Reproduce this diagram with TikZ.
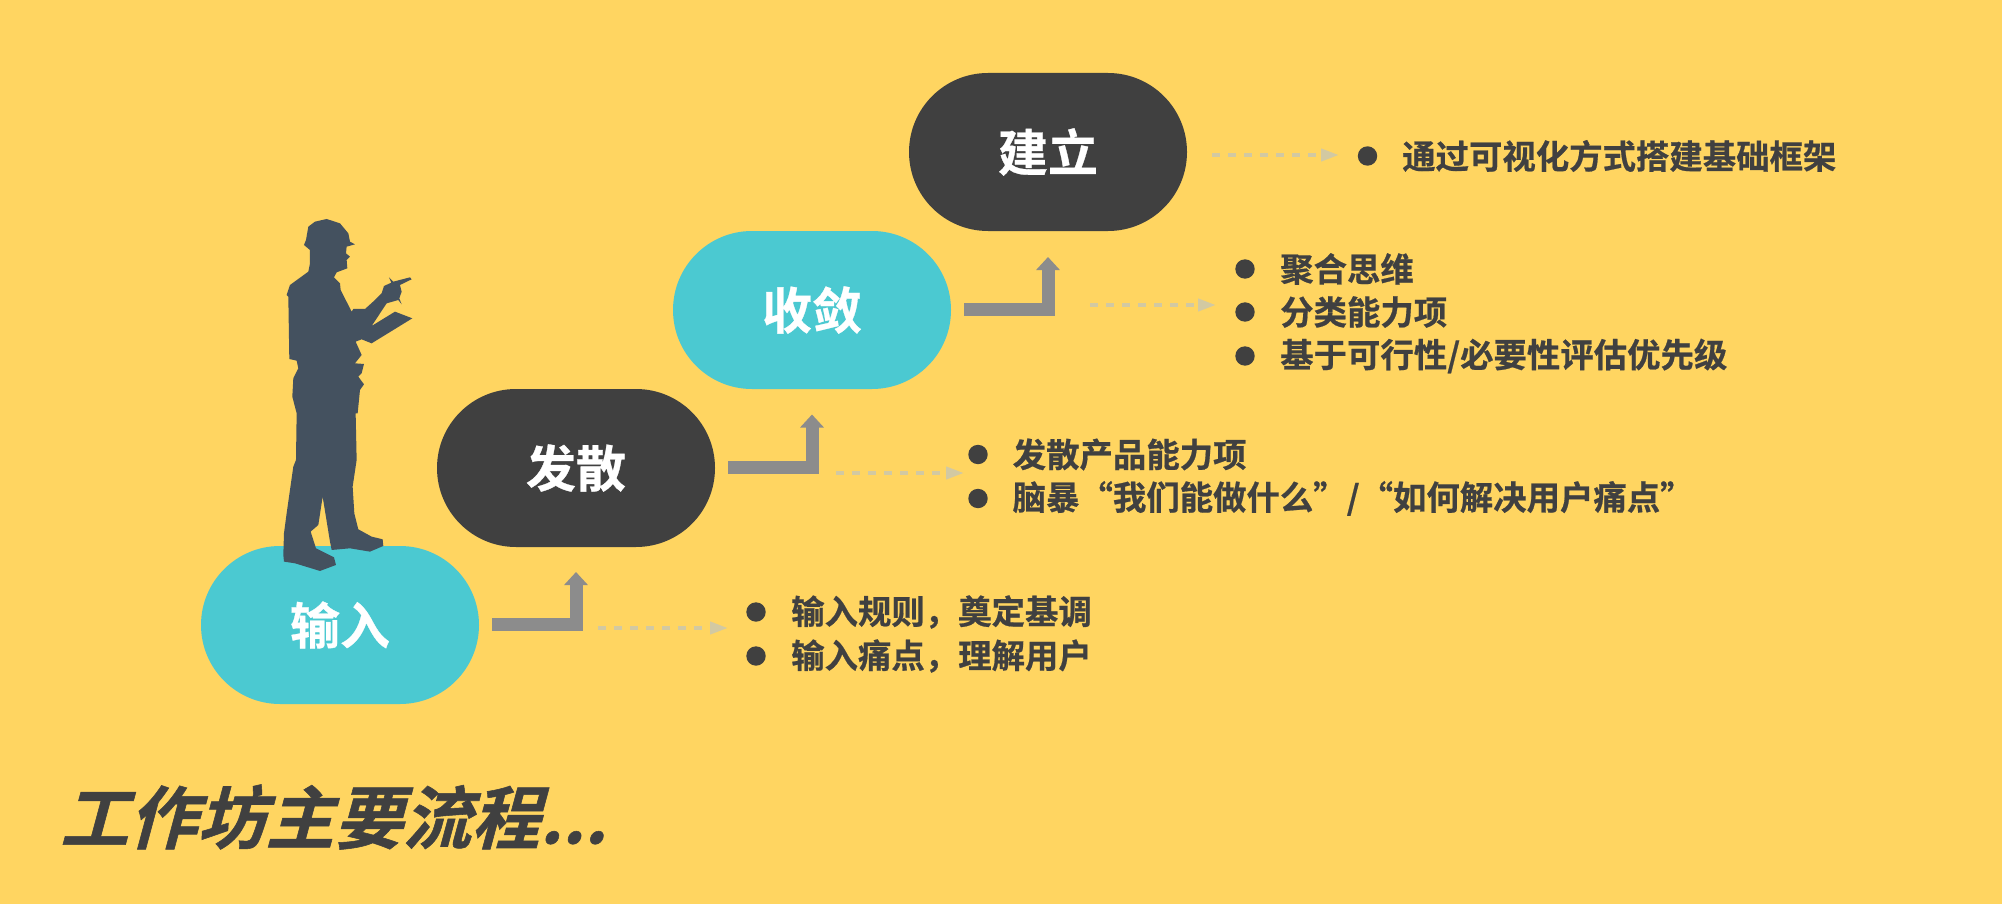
\documentclass[tikz,border=0pt]{standalone}
\usepackage{fontspec}
\usetikzlibrary{arrows.meta,calc}
\newfontfamily\cjk{Noto Sans CJK SC}[BoldFont={Noto Sans CJK SC Bold},BoldFeatures={FakeBold=0.6}]
\newfontfamily\cjktitle{Noto Sans CJK SC}[BoldFont={Noto Sans CJK SC Bold},BoldFeatures={FakeBold=0.8,FakeSlant=0.27}]
\definecolor{bgc}{HTML}{FFD561}
\definecolor{tealc}{HTML}{4BC9D1}
\definecolor{darkc}{HTML}{404040}
\definecolor{manc}{HTML}{44515F}
\definecolor{bentc}{HTML}{8C8C8C}
\definecolor{dashc}{HTML}{D2C9A2}
\tikzset{
  x=1pt,y=-1pt,
  pill/.style={rounded corners=79pt,minimum width=278pt,minimum height=158pt,inner sep=0pt,text=white,font=\cjk\bfseries\fontsize{50}{50}\selectfont},
  tealpill/.style={pill,fill=tealc},
  darkpill/.style={pill,fill=darkc},
  bentarrow/.style={draw=bentc,line width=13pt,-{Triangle[length=13pt,width=23pt]},line join=miter},
  hintarrow/.style={draw=dashc,line width=4pt,dash pattern=on 8pt off 8pt,-{Triangle[length=18pt,width=12pt]}},
  bulletdot/.style={circle,fill=darkc,minimum size=19.4pt,inner sep=0pt},
  itemtext/.style={anchor=west,inner sep=0pt,text=darkc,font=\cjk\bfseries\fontsize{33.4}{40}\selectfont},
}
\begin{document}
\begin{tikzpicture}
\useasboundingbox[fill=bgc] (0,0) rectangle (2002,904);
\node[tealpill] (n1) at (340,625) {输入};
% silhouette
\begin{scope}[shift={(180,200)},x=0.3333pt,y=-0.3333pt]
\fill[manc] (440,57)--(480,70)--(505,100)--(510,125)--(525,133)--(500,140)--(498,160)--(510,170)--(500,180)--(502,205)--(470,217)--(462,232)--(480,250)--(482,270)--(515,335)--(520,327)--(555,327)--(585,300)--(605,280)--(612,258)--(634,248)--(627,232)--(640,245)--(690,232)--(695,238)--(660,255)--(665,275)--(658,295)--(665,313)--(655,300)--(620,310)--(575,378)--(645,335)--(697,355)--(575,430)--(545,418)--(527,425)--(545,465)--(525,490)--(552,492)--(545,520)--(535,530)--(552,553)--(540,570)--(533,640)--(527,640)--(530,780)--(518,860)--(523,940)--(535,988)--(575,1010)--(608,1018)--(610,1038)--(570,1055)--(510,1045)--(455,1050)--(450,1025)--(428,890)--(415,975)--(392,995)--(408,1045)--(462,1072)--(468,1095)--(420,1113)--(345,1090)--(312,1085)--(310,1065)--(312,1000)--(320,940)--(340,800)--(348,780)--(350,640)--(337,590)--(340,535)--(355,505)--(350,482)--(328,477)--(325,290)--(320,285)--(330,255)--(385,215)--(390,190)--(390,150)--(372,135)--(378,120)--(385,80)--(405,65)--cycle;
\end{scope}
\node[darkpill] (n4) at (1048,152) {建立};
\node[tealpill] (n3) at (812,310) {收敛};
\node[darkpill] (n2) at (576,468) {发散};
% bent arrows
\coordinate (a1s) at (492,624.5); \coordinate (a1t) at (576,572);
\coordinate (a2s) at (728,467);   \coordinate (a2t) at (812,414.5);
\coordinate (a3s) at (964,309.5); \coordinate (a3t) at (1048,257);
\draw[bentarrow] (a1s) -| (a1t);
\draw[bentarrow] (a2s) -| (a2t);
\draw[bentarrow] (a3s) -| (a3t);
% dashed hints
\coordinate (h1s) at (598,628); \coordinate (h1t) at (728,628);
\coordinate (h2s) at (836,473); \coordinate (h2t) at (964,473);
\coordinate (h3s) at (1090,305); \coordinate (h3t) at (1216,305);
\coordinate (h4s) at (1212,155); \coordinate (h4t) at (1339,155);
\draw[hintarrow] (h1s) -- (h1t);
\draw[hintarrow] (h2s) -- (h2t);
\draw[hintarrow] (h3s) -- (h3t);
\draw[hintarrow] (h4s) -- (h4t);
% items
\node[bulletdot] (d11) at (756,612) {};
\node[itemtext] (t11) at (791,612) {输入规则，奠定基调};
\node[bulletdot] (d12) at (756,656) {};
\node[itemtext] (t12) at (791,656) {输入痛点，理解用户};
\node[bulletdot] (d21) at (978,454.5) {};
\node[itemtext] (t21) at (1012.5,454.5) {发散产品能力项};
\node[bulletdot] (d22) at (978,498.5) {};
\node[itemtext] (t22) at (1012.5,498.5) {脑暴“我们能做什么”/“如何解决用户痛点”};
\node[bulletdot] (d31) at (1245,269) {};
\node[itemtext] (t31) at (1280,269) {聚合思维};
\node[bulletdot] (d32) at (1245,312) {};
\node[itemtext] (t32) at (1280,312) {分类能力项};
\node[bulletdot] (d33) at (1245,356) {};
\node[itemtext] (t33) at (1280,356) {基于可行性/必要性评估优先级};
\node[bulletdot] (d41) at (1367.5,156) {};
\node[itemtext] (t41) at (1402,156) {通过可视化方式搭建基础框架};
\node[anchor=west,inner sep=0pt,text=darkc,font=\cjktitle\bfseries\fontsize{68.5}{70}\selectfont] (title) at (60,817) {工作坊主要流程...};
\end{tikzpicture}
\end{document}
